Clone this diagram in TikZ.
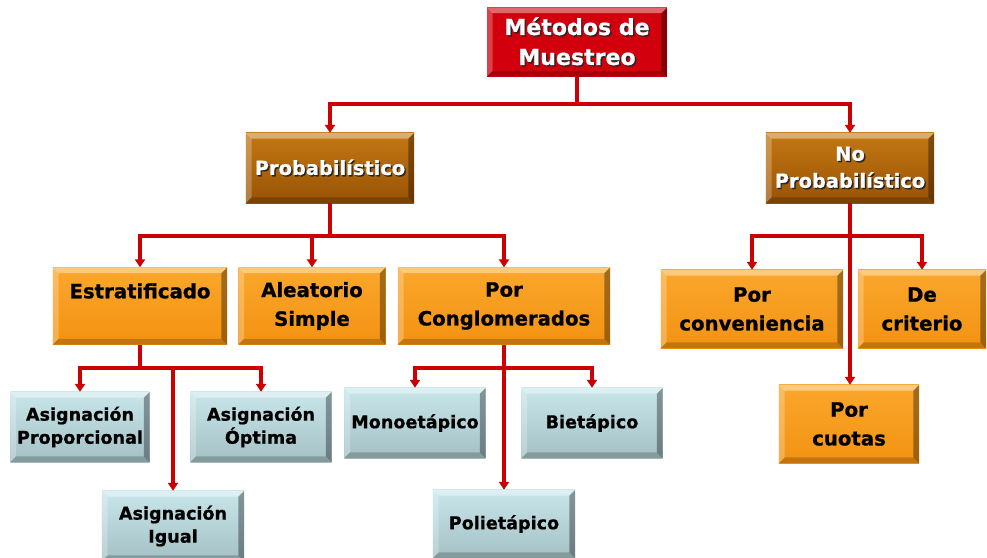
\documentclass[tikz,border=0pt]{standalone}
\usepackage{fontspec}
\setmainfont{DejaVu Sans}[BoldFeatures={FakeBold=0.8}]
\usepackage{tikz}
\usetikzlibrary{arrows.meta, positioning, calc}
\definecolor{BoxRed}{HTML}{D2000C}
\definecolor{LineRed}{HTML}{CC0000}
\definecolor{BrownTop}{HTML}{C47813}
\definecolor{BrownBot}{HTML}{985204}
\definecolor{OrangeTop}{HTML}{FAA72C}
\definecolor{OrangeBot}{HTML}{F39212}
\definecolor{IceTop}{HTML}{C8E6EA}
\definecolor{IceBot}{HTML}{A4C0C4}

\newcommand{\shad}[1]{\makebox[0pt][l]{\kern1pt\raisebox{-1pt}{\color{black!85}#1}}#1}

\tikzset{
  bevel/.style={path picture={
    \fill[white, opacity=.4] (path picture bounding box.north west) -- (path picture bounding box.north east)
      -- ([xshift=-4pt,yshift=-4pt]path picture bounding box.north east) -- ([xshift=4pt,yshift=-4pt]path picture bounding box.north west) -- cycle;
    \fill[white, opacity=.25] (path picture bounding box.north west) -- (path picture bounding box.south west)
      -- ([xshift=4pt,yshift=4pt]path picture bounding box.south west) -- ([xshift=4pt,yshift=-4pt]path picture bounding box.north west) -- cycle;
    \fill[black, opacity=.2] (path picture bounding box.south west) -- (path picture bounding box.south east)
      -- ([xshift=-4pt,yshift=4pt]path picture bounding box.south east) -- ([xshift=4pt,yshift=4pt]path picture bounding box.south west) -- cycle;
    \fill[black, opacity=.35] (path picture bounding box.north east) -- (path picture bounding box.south east)
      -- ([xshift=-4pt,yshift=4pt]path picture bounding box.south east) -- ([xshift=-4pt,yshift=-4pt]path picture bounding box.north east) -- cycle;
  }},
  redbox/.style={bevel, fill=BoxRed, text=white, align=center, inner sep=2pt,
    font=\fontsize{15.7}{21.3}\selectfont\bfseries},
  brownbox/.style={bevel, top color=BrownTop, bottom color=BrownBot, text=white, align=center, inner sep=2pt,
    minimum width=4.2cm, minimum height=1.75cm, font=\fontsize{13.8}{19.2}\selectfont\bfseries},
  orangebox/.style={bevel, top color=OrangeTop, bottom color=OrangeBot, text=black, align=center, inner sep=2pt,
    minimum height=1.925cm, font=\fontsize{14}{20.5}\selectfont\bfseries},
  icebox/.style={bevel, top color=IceTop, bottom color=IceBot, text=black, align=center, inner sep=2pt,
    minimum width=3.525cm, minimum height=1.75cm, font=\fontsize{12.5}{16.4}\selectfont\bfseries},
  wire/.style={LineRed, line width=2.6pt},
  conn/.style={wire, -{Triangle[length=5.5pt,width=7pt]}}
}

\begin{document}
\begin{tikzpicture}[x=0.025cm, y=-0.025cm]
    \useasboundingbox (0,0) rectangle (987,558);

    \node (metodos) [redbox, minimum width=4.5cm, minimum height=1.725cm] at (577,42) {\shad{Métodos de}\\\shad{Muestreo}};

    \node (prob) [brownbox] at (330,168) {\shad{Probabilístico}};
    \node (noprob) [brownbox] at (850,168) {\shad{No}\\\shad{Probabilístico}};

    \node (estrat) [orangebox, minimum width=4.35cm, text depth=0.76cm] at (140,306) {Estratificado};
    \node (aleat) [orangebox, minimum width=3.675cm] at (312,306) {Aleatorio\\Simple};
    \node (conglo) [orangebox, minimum width=5.3cm] at (504,306) {Por\\Conglomerados};
    \node (conv) [orangebox, minimum width=4.55cm, minimum height=1.95cm] at (752,309) {Por\\conveniencia};
    \node (crit) [orangebox, minimum width=3.2cm, minimum height=1.95cm] at (922,309) {De\\criterio};
    \node (cuotas) [orangebox, minimum width=3.5cm, minimum height=1.95cm] at (849,424) {Por\\cuotas};

    \node (asigP) [icebox, minimum width=3.475cm] at (80,427) {Asignación\\Proporcional};
    \node (asigO) [icebox] at (261,427) {Asignación\\Óptima};
    \node (asigI) [icebox, minimum width=3.55cm] at (173,526) {Asignación\\Igual};
    \node (mono) [icebox] at (415,423) {Monoetápico};
    \node (biet) [icebox] at (592,423) {Bietápico};
    \node (poli) [icebox, minimum width=3.55cm, minimum height=1.7cm] at (504,524) {Polietápico};

    \coordinate (j0) at ($(metodos.south)+(0,27)$);
    \coordinate (j1) at ($(prob.south)+(0,33)$);
    \coordinate (j2) at ($(estrat.south)+(0,23)$);
    \coordinate (j3) at ($(conglo.south)+(0,23)$);
    \coordinate (j4) at ($(noprob.south)+(0,33)$);

    \draw[wire] (metodos.south) -- (j0);
    \draw[conn] (j0) -| (prob.north);
    \draw[conn] (j0) -| (noprob.north);

    \draw[wire] (prob.south) -- (j1);
    \draw[conn] (j1) -| (estrat.north);
    \draw[conn] (j1) -| (aleat.north);
    \draw[conn] (j1) -| (conglo.north);

    \draw[wire] (estrat.south) -- (j2);
    \draw[conn] (j2) -| (asigP.north);
    \draw[conn] (j2) -| (asigO.north);
    \draw[conn] (j2) -| (asigI.north);

    \draw[wire] (conglo.south) -- (j3);
    \draw[conn] (j3) -| (mono.north);
    \draw[conn] (j3) -| (biet.north);
    \draw[conn] (j3) -- (j3 |- poli.north);

    \draw[wire] (noprob.south) -- (j4);
    \draw[conn] (j4) -| (conv.north);
    \draw[conn] (j4) -| (crit.north);
    \draw[conn] (j4) -- (j4 |- cuotas.north);
\end{tikzpicture}
\end{document}
